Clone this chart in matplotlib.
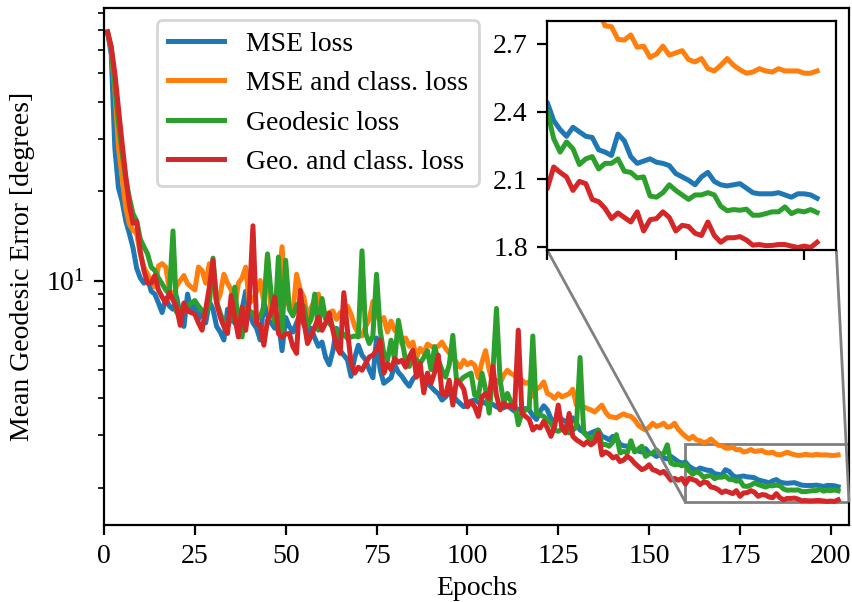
import numpy as np
import matplotlib
matplotlib.use('Agg')
import matplotlib.pyplot as plt
from matplotlib.ticker import MultipleLocator
from mpl_toolkits.axes_grid1.inset_locator import mark_inset

plt.rcParams['font.family'] = ['Liberation Serif', 'DejaVu Serif']
plt.rcParams['mathtext.fontset'] = 'stix'
plt.rcParams['font.size'] = 10
plt.rcParams['lines.linewidth'] = 1.8

epochs = np.arange(1, 203)

mse_loss = [
    69, 58, 28, 20.5, 18.5, 15.9, 14.4, 12.9, 11.0, 10.2,
    9.8, 10.2, 9.2, 9.0, 8.4, 7.8, 8.7, 8.2, 8.0, 8.8,
    7.6, 7.0, 9.0, 7.8, 8.3, 7.4, 7.9, 7.2, 8.5, 8.0,
    7.0, 6.7, 6.3, 8.0, 7.4, 7.2, 6.9, 8.0, 9.2, 7.8,
    7.2, 6.9, 6.3, 8.5, 7.6, 7.2, 6.9, 7.3, 5.8, 7.5,
    7.0, 6.7, 7.2, 7.7, 7.1, 6.6, 6.9, 6.4, 6.0, 6.2,
    5.5, 5.2, 5.8, 6.9, 5.8, 5.6, 5.4, 4.75, 5.5, 6.05,
    5.6, 5.4, 5.0, 4.7, 6.4, 5.0, 4.5, 4.6, 4.7, 5.2,
    4.9, 4.75, 4.55, 4.4, 4.65, 4.8, 4.85, 4.7, 4.5, 4.38,
    4.25, 4.15, 3.95, 4.05, 4.2, 4.1, 3.95, 3.85, 3.75, 3.85,
    3.92, 3.95, 3.88, 3.9, 3.85, 3.8, 3.82, 3.75, 3.7, 3.72,
    3.8, 3.7, 3.62, 3.68, 3.64, 3.7, 3.66, 3.5, 3.4, 3.62,
    3.78, 3.66, 3.42, 3.35, 3.45, 3.4, 3.35, 3.3, 3.44, 3.3,
    3.13, 3.08, 3.02, 3.06, 3.1, 3.13, 2.98, 2.95, 2.9, 2.98,
    2.95, 2.8, 2.77, 2.76, 2.78, 2.68, 2.66, 2.64, 2.71, 2.62,
    2.6, 2.55, 2.58, 2.52, 2.5, 2.55, 2.5, 2.45, 2.42, 2.44,
    2.36, 2.32, 2.29, 2.33, 2.31, 2.29, 2.285, 2.23, 2.22, 2.205,
    2.30, 2.27, 2.20, 2.17, 2.18, 2.19, 2.175, 2.17, 2.16, 2.125,
    2.11, 2.095, 2.075, 2.11, 2.13, 2.09, 2.075, 2.07, 2.075, 2.08,
    2.06, 2.04, 2.035, 2.035, 2.035, 2.04, 2.03, 2.02, 2.035, 2.035,
    2.03, 2.015,
]

mse_class_loss = [
    69, 61, 44, 28, 22.3, 17.6, 15.5, 14.8, 14.4, 12.3,
    11.1, 10.5, 10.0, 9.5, 11.2, 11.4, 11.1, 9.3, 8.8, 9.6,
    10.0, 10.4, 9.75, 9.5, 9.3, 11.1, 10.8, 9.8, 11.4, 10.0,
    8.4, 9.0, 10.5, 9.8, 9.3, 8.1, 9.8, 10.2, 11.1, 8.4,
    8.6, 9.2, 10.0, 8.4, 12.1, 7.5, 8.6, 9.5, 13.0, 8.6,
    8.2, 7.8, 10.5, 9.3, 8.8, 7.5, 8.1, 8.6, 9.0, 8.0,
    7.6, 7.8, 7.9, 7.4, 7.8, 7.5, 8.2, 7.7, 7.0, 6.6,
    6.5, 7.0, 7.4, 8.5, 7.7, 7.3, 7.5, 6.7, 7.3, 6.8,
    6.6, 6.1, 6.4, 6.0, 6.2, 5.5, 5.9, 5.7, 6.1, 6.0,
    5.95, 6.0, 6.2, 5.9, 5.7, 5.5, 5.3, 5.1, 5.38, 5.2,
    5.3, 5.18, 4.7, 5.3, 5.8, 5.0, 4.5, 4.6, 4.5, 4.8,
    4.98, 4.85, 4.79, 4.6, 4.61, 4.5, 4.55, 4.07, 4.3, 4.38,
    4.55, 4.16, 4.1, 4.0, 4.15, 4.05, 4.1, 4.15, 4.3, 3.8,
    3.78, 3.75, 3.7, 3.66, 3.6, 3.7, 3.8, 3.6, 3.48, 3.46,
    3.44, 3.5, 3.55, 3.5, 3.48, 3.39, 3.25, 3.18, 3.13, 3.2,
    3.3, 3.22, 3.25, 3.3, 3.2, 3.22, 3.3, 3.15, 3.06, 2.98,
    2.92, 2.98, 2.9, 2.88, 2.84, 2.86, 2.92, 2.85, 2.78, 2.776,
    2.72, 2.717, 2.74, 2.685, 2.69, 2.64, 2.655, 2.69, 2.65, 2.66,
    2.67, 2.63, 2.62, 2.635, 2.59, 2.58, 2.605, 2.635, 2.605, 2.585,
    2.57, 2.575, 2.59, 2.58, 2.575, 2.59, 2.58, 2.58, 2.58, 2.57,
    2.57, 2.58,
]

geodesic_loss = [
    68.3, 61, 45, 34, 27, 22, 19, 16.8, 15.9, 13.8,
    13.0, 12.3, 11.1, 10.8, 10.2, 9.75, 9.3, 9.0, 14.7, 7.8,
    8.1, 7.93, 8.2, 8.4, 8.56, 8.2, 7.93, 7.76, 8.3, 11.9,
    8.5, 7.76, 7.2, 6.96, 7.5, 9.5, 7.0, 6.45, 8.13, 7.9,
    7.76, 7.34, 7.6, 8.1, 12.3, 9.0, 7.2, 12.0, 6.6, 11.7,
    8.0, 7.6, 8.3, 7.6, 8.2, 7.0, 7.4, 9.0, 6.8, 8.7,
    7.4, 7.17, 6.96, 6.8, 6.45, 6.6, 6.37, 6.45, 6.5, 6.45,
    12.6, 6.63, 6.13, 6.5, 10.5, 6.8, 5.68, 5.38, 6.29, 5.38,
    7.34, 6.29, 5.38, 5.13, 5.52, 5.4, 5.25, 5.5, 5.8, 5.0,
    5.98, 5.38, 5.0, 4.72, 5.2, 6.53, 4.61, 4.6, 4.72, 4.8,
    4.87, 4.11, 4.05, 4.87, 4.3, 3.57, 4.87, 8.05, 4.61, 3.86,
    4.16, 3.9, 3.86, 3.26, 3.57, 3.66, 3.7, 6.5, 3.56, 3.52,
    3.48, 3.39, 3.3, 3.13, 3.1, 3.15, 3.22, 3.06, 3.13, 3.2,
    5.5, 3.07, 2.98, 2.9, 3.0, 3.13, 2.79, 2.8, 2.76, 2.85,
    3.02, 2.62, 2.65, 2.62, 2.88, 2.64, 2.7, 2.76, 2.55, 2.6,
    2.62, 2.68, 2.6, 2.6, 2.79, 2.42, 2.39, 2.4, 2.37, 2.40,
    2.28, 2.22, 2.265, 2.235, 2.165, 2.19, 2.20, 2.145, 2.17, 2.17,
    2.19, 2.135, 2.13, 2.105, 2.11, 2.025, 2.02, 2.04, 2.075, 2.05,
    2.03, 2.01, 2.03, 2.03, 2.04, 2.03, 1.98, 1.96, 1.965, 1.962,
    1.967, 1.94, 1.94, 1.947, 1.955, 1.955, 1.977, 1.947, 1.96, 1.955,
    1.965, 1.952,
]

geo_class_loss = [
    69, 61.5, 50, 38, 29, 22.5, 18, 15.6, 15.8, 12.5,
    10.8, 9.8, 9.8, 10.4, 9.3, 8.8, 8.4, 9.1, 8.6, 8.1,
    7.06, 8.4, 7.9, 7.8, 7.7, 7.2, 6.8, 8.0, 9.5, 11.7,
    8.37, 7.53, 7.0, 6.63, 8.9, 7.53, 6.45, 8.13, 6.79, 8.56,
    15.3, 7.17, 7.06, 6.05, 7.34, 7.8, 8.8, 6.63, 6.45, 6.6,
    6.63, 5.98, 5.68, 9.26, 7.34, 6.13, 6.5, 6.96, 7.53, 6.79,
    7.2, 7.76, 6.79, 5.98, 5.68, 9.1, 6.79, 5.25, 4.87, 5.1,
    4.98, 5.25, 5.52, 5.6, 5.82, 6.29, 4.87, 5.25, 5.0, 5.45,
    5.3, 5.38, 5.1, 5.52, 5.82, 4.72, 5.25, 4.18, 4.87, 4.5,
    4.9, 5.6, 4.16, 4.1, 4.61, 3.8, 4.6, 4.5, 4.3, 3.75,
    3.9, 3.75, 3.48, 4.05, 4.16, 4.0, 5.13, 4.1, 3.66, 3.86,
    3.75, 3.8, 3.7, 6.8, 3.57, 3.48, 3.4, 3.13, 3.22, 3.18,
    3.35, 3.18, 2.98, 3.22, 3.8, 3.18, 3.06, 3.56, 2.98, 2.9,
    2.85, 2.79, 2.86, 2.79, 2.85, 3.06, 2.58, 2.64, 2.6, 2.52,
    2.55, 2.45, 2.48, 2.55, 2.5, 2.42, 2.36, 2.3, 2.33, 2.39,
    2.3, 2.28, 2.24, 2.27, 2.2, 2.12, 2.15, 2.12, 2.15, 2.058,
    2.154, 2.13, 2.11, 2.05, 2.09, 2.08, 2.01, 2.00, 1.97, 1.925,
    1.95, 1.93, 1.91, 1.955, 1.87, 1.92, 1.925, 1.955, 1.93, 1.87,
    1.895, 1.89, 1.86, 1.85, 1.91, 1.85, 1.82, 1.84, 1.84, 1.845,
    1.83, 1.807, 1.81, 1.805, 1.806, 1.81, 1.81, 1.803, 1.797, 1.803,
    1.797, 1.82,
]

labels = ['MSE loss', 'MSE and class. loss', 'Geodesic loss', 'Geo. and class. loss']
series = [mse_loss, mse_class_loss, geodesic_loss, geo_class_loss]

fig, ax = plt.subplots(figsize=(4.26, 3.01), dpi=200)
fig.subplots_adjust(left=0.122, right=0.9965, bottom=0.128, top=0.986)

for y, lab in zip(series, labels):
    ax.plot(epochs, y, label=lab)
ax.set_yscale('log')
ax.set_xlim(0, 205)
ax.xaxis.set_major_locator(MultipleLocator(25))
ax.set_xlabel('Epochs', labelpad=2.5)
ax.set_ylabel('Mean Geodesic Error [degrees]')
ax.legend(loc='upper left', bbox_to_anchor=(0.071, 0.977), borderaxespad=0)

# zoomed view of the last epochs
axins = ax.inset_axes([0.595, 0.532, 0.388, 0.443])
for y in series:
    axins.plot(epochs, y)
axins.set_xlim(160, 205)
axins.set_ylim(1.785, 2.8)
axins.set_xticks([160, 180, 200])
axins.set_xticklabels([])
axins.set_yticks([1.8, 2.1, 2.4, 2.7])
mark_inset(ax, axins, loc1=3, loc2=4, fc='none', ec='0.5')

fig.savefig('out.png', dpi=200)
